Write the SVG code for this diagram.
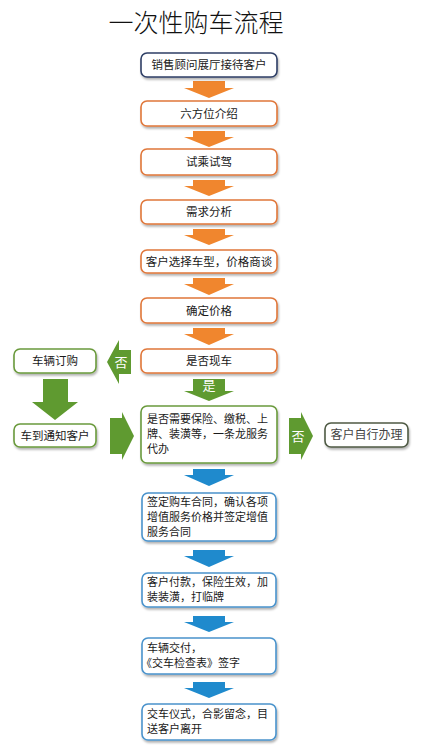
<svg xmlns="http://www.w3.org/2000/svg" width="423" height="753" viewBox="0 0 423 753">
<defs>
<filter id="sh" x="-10%" y="-20%" width="120%" height="150%">
<feDropShadow dx="1" dy="2" stdDeviation="1.2" flood-color="#000" flood-opacity="0.3"/>
</filter>
</defs>
<style>
text{font-family:"Noto Sans CJK SC","Noto Sans CJK JP",sans-serif;fill:#1a1a1a;font-size:11.5px}
.m{font-size:11px}
.t{font-size:25px;font-weight:300;fill:#111}
.c{text-anchor:middle}
.box{fill:#fff;stroke-width:1.6;filter:url(#sh)}
.navy{stroke:#2f3f66}
.or{stroke:#e0773a}
.gr{stroke:#6a9a3c}
.bl{stroke:#4a93cc}
.gy{stroke:#4f5a44}
.ao{fill:#f0862e}
.ag{fill:#5f9a30}
.ab{fill:#1f8acd}
.w{fill:#fff;font-size:13px;text-anchor:middle}
.s{fill:#444;font-size:12px}
</style>
<text class="t c" x="196" y="32">一次性购车流程</text>
<g id="connectors">
<path class="ao" d="M193 81H225V88H234L209 98L184 88H193Z"/>
<path class="ao" d="M193 131H225V137H234L209 147L184 137H193Z"/>
<path class="ao" d="M193 180H225V186H234L209 196L184 186H193Z"/>
<path class="ao" d="M193 229H225V235H234L209 245L184 235H193Z"/>
<path class="ao" d="M193 278H225V284H234L209 295L184 284H193Z"/>
<path class="ao" d="M193 328H225V334H234L209 345L184 334H193Z"/>
<path class="ag" d="M131 350V374H119V384L107 362L119 340V350Z"/>
<text class="w" x="121" y="367">否</text>
<path class="ag" d="M43 379H68V402H78L55 420L32 402H43Z"/>
<path class="ag" d="M110 418H122V412L134 436L122 460V454H110Z"/>
<path class="ag" d="M193 379H225V391H234L209 401L184 391H193Z"/>
<text class="w" x="209" y="390">是</text>
<path class="ag" d="M289 418H301V412L313 436L301 460V454H289Z"/>
<text class="w" x="298" y="441">否</text>
<path class="ab" d="M193 469H225V475H234L209 486L184 475H193Z"/>
<path class="ab" d="M193 550H225V556H234L209 567L184 556H193Z"/>
<path class="ab" d="M193 616H225V622H234L209 632L184 622H193Z"/>
<path class="ab" d="M193 682H225V688H234L209 698L184 688H193Z"/>
</g>
<g id="n1"><rect class="box navy" x="141" y="53" width="136" height="24" rx="6"/><text class="c" x="209" y="69">销售顾问展厅接待客户</text></g>
<g id="n2"><rect class="box or" x="141" y="101" width="136" height="25" rx="6"/><text class="c" x="209" y="118">六方位介绍</text></g>
<g id="n3"><rect class="box or" x="141" y="149" width="136" height="26" rx="6"/><text class="c" x="209" y="166">试乘试驾</text></g>
<g id="n4"><rect class="box or" x="141" y="200" width="136" height="24" rx="6"/><text class="c" x="209" y="216">需求分析</text></g>
<g id="n5"><rect class="box or" x="141" y="250" width="136" height="23" rx="6"/><text class="c" x="209" y="266">客户选择车型，价格商谈</text></g>
<g id="n6"><rect class="box or" x="141" y="298" width="136" height="25" rx="6"/><text class="c" x="209" y="315">确定价格</text></g>
<g id="n7"><rect class="box or" x="141" y="349" width="136" height="24" rx="6"/><text class="c" x="209" y="365">是否现车</text></g>
<g id="n8"><rect class="box gr" x="14" y="349" width="82" height="24" rx="6"/><text class="c" x="55" y="365">车辆订购</text></g>
<g id="n9"><rect class="box gr" x="14" y="424" width="82" height="23" rx="6"/><text class="c" x="55" y="440">车到通知客户</text></g>
<g id="n10"><rect class="box gr" x="141" y="406" width="136" height="57" rx="6"/>
<text class="m" x="147" y="423">是否需要保险、缴税、上</text>
<text class="m" x="147" y="438">牌、装潢等，一条龙服务</text>
<text class="m" x="147" y="453">代办</text></g>
<g id="n11"><rect class="box gy" x="325" y="423" width="83" height="24" rx="6"/><text class="c s" x="366.5" y="439">客户自行办理</text></g>
<g id="n12"><rect class="box bl" x="142" y="493" width="134" height="48" rx="6"/>
<text class="m" x="147" y="506">签定购车合同，确认各项</text>
<text class="m" x="147" y="521">增值服务价格并签定增值</text>
<text class="m" x="147" y="536">服务合同</text></g>
<g id="n13"><rect class="box bl" x="142" y="573" width="134" height="34" rx="6"/>
<text class="m" x="147" y="586">客户付款，保险生效，加</text>
<text class="m" x="147" y="601">装装潢，打临牌</text></g>
<g id="n14"><rect class="box bl" x="142" y="638" width="134" height="36" rx="6"/>
<text class="m" x="147" y="652">车辆交付，</text>
<text class="m" x="141" y="667">《交车检查表》签字</text></g>
<g id="n15"><rect class="box bl" x="142" y="704" width="134" height="36" rx="6"/>
<text class="m" x="147" y="718">交车仪式，合影留念，目</text>
<text class="m" x="147" y="733">送客户离开</text></g>
</svg>
